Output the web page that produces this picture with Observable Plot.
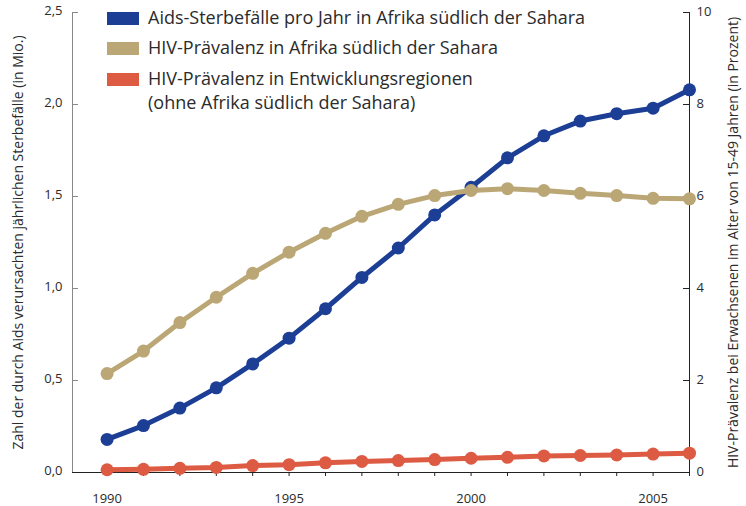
<!DOCTYPE html>
<html><head><meta charset="utf-8">
<script src="https://cdn.jsdelivr.net/npm/d3@7"></script>
<script src="https://cdn.jsdelivr.net/npm/@observablehq/plot@0.6"></script>
<style>
body{margin:0;background:#fff;}
#wrap{position:relative;width:746px;height:506px;font-family:"Open Sans",sans-serif;color:#2b2b2b;}
.item{position:absolute;left:107px;}
.sw{position:absolute;left:0;top:0;width:32px;height:13px;}
.lt{position:absolute;left:41px;top:-7px;white-space:nowrap;font-size:18px;letter-spacing:0px;line-height:24px;}
</style></head><body><div id="wrap"></div>
<script>
const years = [1990,1991,1992,1993,1994,1995,1996,1997,1998,1999,2000,2001,2002,2003,2004,2005,2006];
const deathsMio = [0.18,0.255,0.35,0.46,0.59,0.73,0.89,1.06,1.22,1.40,1.55,1.71,1.83,1.91,1.95,1.98,2.08];
const prevAfrica = [2.15,2.64,3.26,3.81,4.33,4.79,5.20,5.57,5.83,6.02,6.13,6.17,6.13,6.07,6.02,5.96,5.95];
const prevOther = [0.06,0.07,0.09,0.11,0.15,0.17,0.21,0.24,0.26,0.28,0.31,0.33,0.36,0.37,0.38,0.40,0.42];
const seriesNames = ["Aids-Sterbefälle pro Jahr in Afrika südlich der Sahara","HIV-Prävalenz in Afrika südlich der Sahara","HIV-Prävalenz in Entwicklungsregionen<br>(ohne Afrika südlich der Sahara)"];
const seriesColors = ["#1c3e95","#bba776","#dd5a43"];
const leftTicks = [0,0.5,1,1.5,2,2.5];
const rightTicks = [0,2,4,6,8,10];
const xDomain = [1989.05,2006];
const leftTitle = "Zahl der durch Aids verursachten jährlichen Sterbefälle (in Mio.)";
const rightTitle = "HIV-Prävalenz bei Erwachsenen im Alter von 15-49 Jahren (in Prozent)";

const ratio = 4; // right axis (%) per left axis unit (Mio.)
const dDeaths = years.map((y,i)=>({year:y, v:deathsMio[i]}));
const dAfrica = years.map((y,i)=>({year:y, v:prevAfrica[i]/ratio}));
const dOther = years.map((y,i)=>({year:y, v:prevOther[i]/ratio}));
const fmt = d => d.toFixed(1).replace(".", ",");
const txt = "#2b2b2b";
const fam = '"Open Sans",sans-serif';

const chart = Plot.plot({
  width:746, height:506,
  marginLeft:72, marginRight:57, marginTop:12, marginBottom:34,
  style:{fontFamily:fam, fontSize:"13px", color:txt, background:"transparent"},
  x:{domain:xDomain},
  y:{domain:[0,2.5]},
  marks:[
    Plot.axisX(years,{tickSize:4, tickPadding:17, stroke:"#222", tickFormat:d=>d%5===0?String(d):"", label:null, fontSize:13, fill:txt}),
    Plot.axisY(leftTicks,{anchor:"left", tickSize:0, tickPadding:10, dy:-2, tickFormat:fmt, label:null, fontSize:13, fill:txt}),
    Plot.axisY(leftTicks,{anchor:"left", tickSize:6, dx:6, text:null, stroke:"#888", label:null}),
    Plot.axisY(rightTicks.map(d=>d/ratio),{anchor:"right", tickSize:0, tickPadding:7, dy:-1, tickFormat:d=>String(Math.round(d*ratio)), label:null, fontSize:13, fill:txt}),
    Plot.axisY(rightTicks.map(d=>d/ratio),{anchor:"right", tickSize:7, dx:-7, text:null, stroke:"#222", label:null}),
    Plot.ruleX([xDomain[0]],{stroke:"#888"}),
    Plot.ruleX([xDomain[1]],{stroke:"#222"}),
    Plot.ruleY([0],{stroke:"#222"}),
    Plot.text([leftTitle],{frameAnchor:"left", textAnchor:"middle", rotate:-90, dx:-54, fontSize:14, letterSpacing:0.2, fill:txt}),
    Plot.text([rightTitle],{frameAnchor:"right", textAnchor:"middle", rotate:-90, dx:44, fontSize:14, letterSpacing:0.2, fill:txt}),
    Plot.line(dOther,{x:"year", y:"v", stroke:seriesColors[2], strokeWidth:5, strokeLinejoin:"round"}),
    Plot.dot(dOther,{x:"year", y:"v", r:6.5, fill:seriesColors[2], stroke:"none"}),
    Plot.line(dDeaths,{x:"year", y:"v", stroke:seriesColors[0], strokeWidth:5, strokeLinejoin:"round"}),
    Plot.dot(dDeaths,{x:"year", y:"v", r:6.5, fill:seriesColors[0], stroke:"none"}),
    Plot.line(dAfrica,{x:"year", y:"v", stroke:seriesColors[1], strokeWidth:5, strokeLinejoin:"round"}),
    Plot.dot(dAfrica,{x:"year", y:"v", r:6.5, fill:seriesColors[1], stroke:"none"})
  ]
});
const wrap = document.getElementById("wrap");
wrap.appendChild(chart);
const tops = [12,42,73];
seriesNames.forEach((n,i)=>{
  const it = document.createElement("div");
  it.className="item"; it.style.top = tops[i]+"px";
  it.innerHTML = `<div class="sw" style="background:${seriesColors[i]}"></div><div class="lt">${n}</div>`;
  wrap.appendChild(it);
});
</script>
</body></html>
